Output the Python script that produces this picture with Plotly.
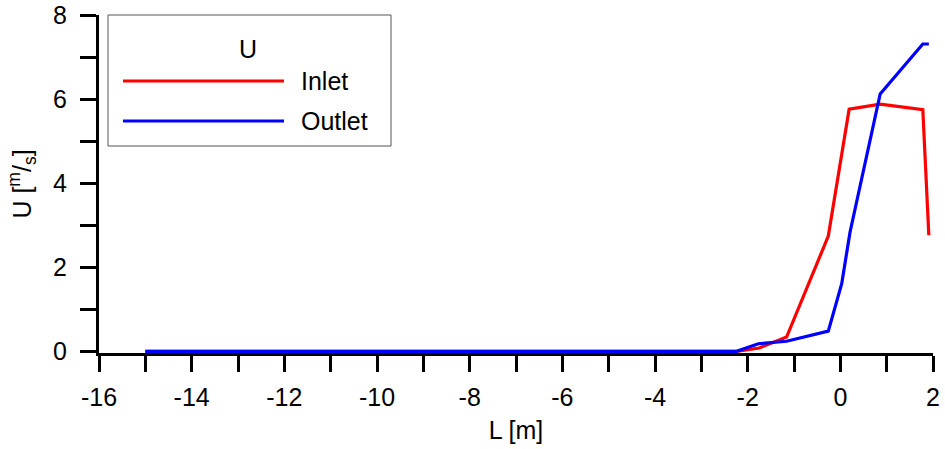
import plotly.graph_objects as go

# Data
inlet_L = [-15.0, -2.24, -1.75, -1.16, -0.26, 0.19, 0.86, 1.78, 1.91]
inlet_U = [0.0, 0.0, 0.08, 0.34, 2.74, 5.76, 5.88, 5.75, 2.76]
outlet_L = [-15.0, -2.24, -1.77, -1.16, -0.26, 0.03, 0.21, 0.86, 1.78, 1.91]
outlet_U = [0.0, 0.0, 0.18, 0.24, 0.48, 1.61, 2.84, 6.12, 7.31, 7.31]
series_names = ["Inlet", "Outlet"]
series_colors = ["#ff0000", "#0000ff"]
legend_title = "U"
x_tickvals = [-16, -14, -12, -10, -8, -6, -4, -2, 0, 2]
x_ticktext = ["-16", "-14", "-12", "-10", "-8", "-6", "-4", "-2", "0", "2"]
y_tickvals = [0, 2, 4, 6, 8]
y_ticktext = ["0", "2", "4", "6", "8"]

W, H = 945, 449
L_M, R_M, T_M, B_M = 99, 12, 15, 96
FONT = "Liberation Sans, Arial, sans-serif"
FS = 25

def px(x):
    return (x - L_M) / (W - L_M - R_M)

def py(y):
    return 1 - (y - T_M) / (H - T_M - B_M)

fig = go.Figure()
for xs, ys, nm, col in [(inlet_L, inlet_U, series_names[0], series_colors[0]),
                        (outlet_L, outlet_U, series_names[1], series_colors[1])]:
    fig.add_trace(go.Scatter(x=xs, y=ys, mode="lines", name=nm,
                             line=dict(color=col, width=3.2), showlegend=False))

shapes = [dict(type="rect", xref="paper", yref="paper",
               x0=px(108), x1=px(391), y0=py(146), y1=py(15),
               line=dict(color="#555555", width=1), fillcolor="white", layer="above")]
annots = [dict(text=legend_title, x=px(248), y=py(49), xref="paper", yref="paper",
               showarrow=False, xanchor="center", yanchor="middle",
               font=dict(family=FONT, size=FS, color="black"))]
for i, (nm, col) in enumerate(zip(series_names, series_colors)):
    yy = 81 + 40 * i
    shapes.append(dict(type="line", xref="paper", yref="paper",
                       x0=px(123), x1=px(284), y0=py(yy), y1=py(yy),
                       line=dict(color=col, width=3.2), layer="above"))
    annots.append(dict(text=nm, x=px(299), y=py(yy), xref="paper", yref="paper",
                       showarrow=False, xanchor="left", yanchor="middle",
                       font=dict(family=FONT, size=FS, color="black")))

fig.update_layout(
    width=W, height=H,
    margin=dict(l=L_M, r=R_M, t=T_M, b=B_M, pad=0, autoexpand=False),
    plot_bgcolor="white", paper_bgcolor="white",
    font=dict(family=FONT, size=FS, color="black"),
    shapes=shapes, annotations=annots,
    xaxis=dict(range=[-16, 2], tickmode="array", tickvals=x_tickvals, ticktext=x_ticktext,
               ticks="outside", ticklen=16, tickwidth=3, tickcolor="black",
               showline=True, linewidth=3, linecolor="black", layer="below traces",
               showgrid=False, zeroline=False, ticklabelstandoff=4, automargin=False,
               minor=dict(dtick=1, tick0=-16, ticks="outside", ticklen=16, tickwidth=3,
                          tickcolor="black", showgrid=False),
               title=dict(text="L [m]", standoff=12, font=dict(size=FS))),
    yaxis=dict(range=[-0.04, 8], tickmode="array", tickvals=y_tickvals, ticktext=y_ticktext,
               ticks="outside", ticklen=16, tickwidth=3, tickcolor="black",
               showline=True, linewidth=3, linecolor="black", layer="below traces",
               showgrid=False, zeroline=False, ticklabelstandoff=8, automargin=False,
               minor=dict(dtick=1, tick0=0, ticks="outside", ticklen=16, tickwidth=3,
                          tickcolor="black", showgrid=False),
               title=dict(text="U [<sup>m</sup>/<sub>s</sub>]", standoff=15, font=dict(size=FS))),
)

fig.write_html("out.html")
